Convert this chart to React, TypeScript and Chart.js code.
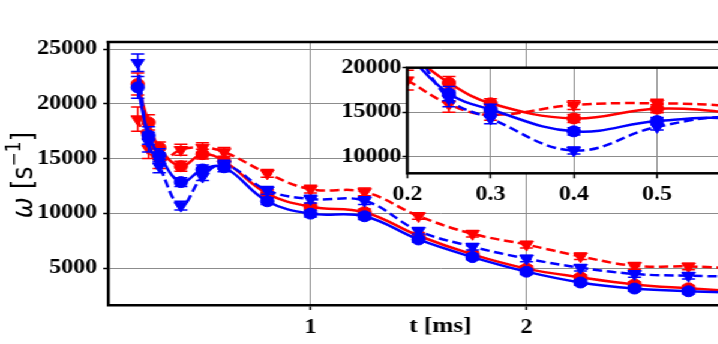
import React, { useEffect, useRef } from "react";
import { Chart, registerables } from "chart.js";
Chart.register(...registerables);

// ---- data (t in ms, omega in s^-1) ----
const times = [0.2, 0.25, 0.3, 0.4, 0.5, 0.6, 0.8, 1.0, 1.25, 1.5, 1.75, 2.0, 2.25, 2.5, 2.75, 3.0];
const redCircle = [21800, 18300, 16000, 14300, 15400, 14750, 11800, 10600, 10100, 7950, 6250, 4950, 4150, 3500, 3150, 2850];
const redCircleErr = [1000, 700, 500, 450, 450, 400, 350, 300, 300, 300, 250, 250, 250, 250, 250, 250];
const redTri = [18600, 15900, 14700, 15800, 16000, 15600, 13650, 12200, 11950, 9750, 8130, 7140, 6070, 5200, 5150, 4950];
const redTriErr = [1100, 900, 600, 500, 450, 400, 350, 350, 350, 300, 300, 300, 300, 300, 300, 300];
const blueCircle = [21500, 17100, 15300, 12850, 14000, 14200, 11100, 9970, 9730, 7610, 6000, 4670, 3680, 3130, 2880, 2750];
const blueCircleErr = [1000, 800, 600, 400, 400, 400, 300, 300, 300, 250, 250, 250, 250, 250, 250, 250];
const blueTri = [23750, 16500, 14300, 10700, 13350, 14450, 12100, 11300, 11150, 8400, 6950, 5870, 5030, 4460, 4300, 4200];
const blueTriErr = [800, 900, 600, 400, 350, 400, 350, 350, 350, 300, 300, 300, 300, 300, 300, 300];

const mainXTicks = [1, 2];
const mainYTicks = [5000, 10000, 15000, 20000, 25000];
const insetXTicks = [0.2, 0.3, 0.4, 0.5, 0.6];
const insetYTicks = [10000, 15000, 20000];

const RED = "#ff0000";
const BLUE = "#0000ff";
const SX = 1.2;
const TICK_FONT = { family: "'Liberation Serif', 'Times New Roman', serif", weight: "bold" as const, size: 20 };

const pts = (ys: number[]) => times.map((t, i) => ({ x: t, y: ys[i] }));

function makeDatasets() {
  const base = (label: string, ys: number[], errs: number[], color: string, tri: boolean) => ({
    label,
    data: pts(ys),
    errors: errs,
    borderColor: color,
    backgroundColor: color,
    pointBackgroundColor: color,
    pointBorderColor: color,
    pointBorderWidth: 1,
    borderWidth: 2.5,
    borderDash: tri ? [8, 4] : [],
    pointStyle: tri ? "triangle" : "circle",
    pointRotation: tri ? 180 : 0,
    pointRadius: tri ? 6.5 : 5.5,
    tension: 0.4,
    clip: 0,
  });
  return [
    base("blue circles", blueCircle, blueCircleErr, BLUE, false),
    base("blue triangles", blueTri, blueTriErr, BLUE, true),
    base("red circles", redCircle, redCircleErr, RED, false),
    base("red triangles", redTri, redTriErr, RED, true),
  ];
}

const errorBarPlugin = {
  id: "errorBars",
  afterDatasetDraw(chart: any, args: any) {
    const ds = chart.data.datasets[args.index];
    if (!ds.errors) return;
    const { ctx, chartArea } = chart;
    const ys = chart.scales.y;
    ctx.save();
    ctx.beginPath();
    ctx.rect(chartArea.left, chartArea.top, chartArea.right - chartArea.left, chartArea.bottom - chartArea.top);
    ctx.clip();
    ctx.strokeStyle = ds.borderColor;
    ctx.lineWidth = 1.5;
    ctx.setLineDash([]);
    args.meta.data.forEach((pt: any, i: number) => {
      const v = ds.data[i].y;
      const e = ds.errors[i];
      const x = pt.x;
      const y1 = ys.getPixelForValue(v + e);
      const y2 = ys.getPixelForValue(v - e);
      ctx.beginPath();
      ctx.moveTo(x, y1);
      ctx.lineTo(x, y2);
      ctx.moveTo(x - 5.5, y1);
      ctx.lineTo(x + 5.5, y1);
      ctx.moveTo(x - 5.5, y2);
      ctx.lineTo(x + 5.5, y2);
      ctx.stroke();
    });
    ctx.restore();
  },
};

const mainDecor = {
  id: "mainDecor",
  afterDraw(chart: any) {
    const { ctx, chartArea } = chart;
    ctx.save();
    ctx.strokeStyle = "black";
    ctx.lineWidth = 2.5;
    ctx.beginPath();
    ctx.moveTo(chartArea.left - 1.25, chartArea.top);
    ctx.lineTo(chartArea.right, chartArea.top);
    ctx.stroke();
    // x title
    ctx.fillStyle = "black";
    ctx.font = "bold 21px 'Liberation Serif', serif";
    ctx.textAlign = "center";
    ctx.textBaseline = "middle";
    ctx.fillText("t [ms]", (chartArea.left + chartArea.right) / 2, 327);
    // y title
    ctx.translate(19, 175);
    ctx.rotate(-Math.PI / 2);
    ctx.textAlign = "left";
    ctx.textBaseline = "alphabetic";
    const parts: any[] = [
      { t: "ω", f: "italic 25px 'DejaVu Sans'", dy: 0 },
      { t: " [s", f: "25px 'DejaVu Sans'", dy: 0 },
      { t: "−1", f: "17px 'DejaVu Sans'", dy: -10 },
      { t: "]", f: "25px 'DejaVu Sans'", dy: 0 },
    ];
    let total = 0;
    parts.forEach((p) => {
      ctx.font = p.f;
      p.w = ctx.measureText(p.t).width;
      total += p.w;
    });
    let x = -total / 2;
    parts.forEach((p) => {
      ctx.font = p.f;
      ctx.fillText(p.t, x, 8 + p.dy);
      x += p.w;
    });
    ctx.restore();
  },
};

const insetDecor = {
  id: "insetDecor",
  beforeDraw(chart: any) {
    const { ctx, chartArea } = chart;
    ctx.save();
    ctx.fillStyle = "white";
    ctx.fillRect(chartArea.left, chartArea.top, chartArea.right - chartArea.left, chartArea.bottom - chartArea.top);
    ctx.restore();
  },
  afterDraw(chart: any) {
    const { ctx, chartArea } = chart;
    ctx.save();
    ctx.strokeStyle = "black";
    ctx.lineWidth = 2.5;
    ctx.strokeRect(chartArea.left, chartArea.top, chartArea.right - chartArea.left, chartArea.bottom - chartArea.top);
    ctx.restore();
  },
};

export default function App() {
  const mainRef = useRef<HTMLCanvasElement>(null);
  const insetRef = useRef<HTMLCanvasElement>(null);

  useEffect(() => {
    const gridColor = "#8c8c8c";
    const main = new Chart(mainRef.current!, {
      type: "line",
      data: { datasets: makeDatasets() as any },
      plugins: [errorBarPlugin, mainDecor],
      options: {
        animation: false,
        responsive: false,
        devicePixelRatio: 1,
        layout: { padding: { left: 0, right: 16, top: 42, bottom: 0 } },
        plugins: { legend: { display: false }, tooltip: { enabled: false } },
        scales: {
          x: {
            type: "linear",
            min: 0.0625,
            max: 3.1403,
            afterFit: (s: any) => { s.height = 39; },
            afterBuildTicks: (s: any) => { s.ticks = mainXTicks.map((v) => ({ value: v })); },
            ticks: { font: TICK_FONT, color: "black", padding: 6, maxRotation: 0, callback: (v: any) => String(v) },
            grid: { color: gridColor, lineWidth: 1, tickLength: 5, tickColor: "black", tickWidth: 1.5 },
            border: { display: true, color: "black", width: 2.5 },
          },
          y: {
            type: "linear",
            min: 1627,
            max: 25640,
            afterFit: (s: any) => { s.width = 90; },
            afterBuildTicks: (s: any) => { s.ticks = mainYTicks.map((v) => ({ value: v })); },
            ticks: { font: TICK_FONT, color: "black", padding: 5, callback: (v: any) => String(v) },
            grid: { color: gridColor, lineWidth: 1, tickLength: 4, tickColor: "black", tickWidth: 1.5 },
            border: { display: true, color: "black", width: 2.5 },
          },
        },
      } as any,
    });

    const inset = new Chart(insetRef.current!, {
      type: "line",
      data: { datasets: makeDatasets() as any },
      plugins: [insetDecor, errorBarPlugin],
      options: {
        animation: false,
        responsive: false,
        devicePixelRatio: 1,
        layout: { padding: { left: 0, right: 29.2, top: 27.7, bottom: 0 } },
        plugins: { legend: { display: false }, tooltip: { enabled: false } },
        scales: {
          x: {
            type: "linear",
            min: 0.2,
            max: 0.62,
            afterFit: (s: any) => { s.height = 36.7; },
            afterBuildTicks: (s: any) => { s.ticks = insetXTicks.map((v) => ({ value: v })); },
            ticks: { font: TICK_FONT, color: "black", padding: 5, maxRotation: 0, callback: (v: any) => Number(v).toFixed(1) },
            grid: { color: gridColor, lineWidth: 1, tickLength: 5, tickColor: "black", tickWidth: 1.5 },
            border: { display: false },
          },
          y: {
            type: "linear",
            min: 8135,
            max: 20000,
            afterFit: (s: any) => { s.width = 79.4; },
            afterBuildTicks: (s: any) => { s.ticks = insetYTicks.map((v) => ({ value: v })); },
            ticks: { font: TICK_FONT, color: "black", padding: 1, callback: (v: any) => String(v) },
            grid: { color: gridColor, lineWidth: 1, tickLength: 4, tickColor: "black", tickWidth: 1.5 },
            border: { display: false },
          },
        },
      } as any,
    });

    return () => {
      main.destroy();
      inset.destroy();
    };
  }, []);

  return (
    <div style={{ position: "fixed", left: 0, top: 0, width: 718, height: 344, overflow: "hidden", background: "white" }}>
      <div style={{ position: "absolute", left: 0, top: 0, width: 660, height: 344, transform: `scaleX(${SX})`, transformOrigin: "0 0" }}>
        <canvas ref={mainRef} width={660} height={344} style={{ position: "absolute", left: 0, top: 0, width: 660, height: 344 }} />
        <canvas ref={insetRef} width={400} height={170} style={{ position: "absolute", left: 260, top: 40, width: 400, height: 170 }} />
      </div>
    </div>
  );
}
